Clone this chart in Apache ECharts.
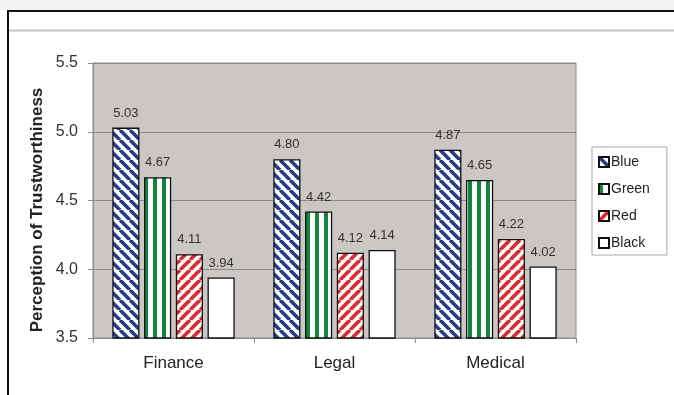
<!DOCTYPE html>
<html><head><meta charset="utf-8">
<script src="https://cdn.jsdelivr.net/npm/echarts@6/dist/echarts.min.js"></script>
<style>html,body{margin:0;padding:0;background:#fff}#c{width:674px;height:395px}</style>
</head><body><div id="c"></div>
<script>
const categories = ['Finance', 'Legal', 'Medical'];
const seriesNames = ['Blue', 'Green', 'Red', 'Black'];
const blueValues = [5.03, 4.80, 4.87];
const greenValues = [4.67, 4.42, 4.65];
const redValues = [4.11, 4.12, 4.22];
const blackValues = [3.94, 4.14, 4.02];
const yTicks = [3.5, 4.0, 4.5, 5.0, 5.5];

function diag(color, dir) {
  const p = 10;
  const c = document.createElement('canvas');
  c.width = p; c.height = p;
  const g = c.getContext('2d');
  g.fillStyle = '#ffffff'; g.fillRect(0, 0, p, p);
  g.strokeStyle = color; g.lineWidth = 3.6;
  for (let k = -2; k <= 2; k++) {
    g.beginPath();
    if (dir === 'back') { g.moveTo(k * p, 0); g.lineTo(k * p + p, p); }
    else { g.moveTo(k * p, p); g.lineTo(k * p + p, 0); }
    g.stroke();
  }
  return { image: c, repeat: 'repeat' };
}
function vert(color) {
  const c = document.createElement('canvas');
  c.width = 9; c.height = 4;
  const g = c.getContext('2d');
  g.fillStyle = '#ffffff'; g.fillRect(0, 0, 9, 4);
  g.fillStyle = color; g.fillRect(0, 0, 4, 4);
  return { image: c, repeat: 'repeat' };
}
const fills = [diag('#263a8e', 'back'), vert('#12863a'), diag('#e8242b', 'fwd'), '#ffffff'];
const valueSets = [blueValues, greenValues, redValues, blackValues];

const chart = echarts.init(document.getElementById('c'), null, { renderer: 'canvas' });
chart.setOption({
  animation: false,
  backgroundColor: '#ffffff',
  textStyle: { fontFamily: 'Liberation Sans, Arial, sans-serif' },
  graphic: [
    { type: 'rect', shape: { x: 0, y: 0, width: 674, height: 10 }, style: { fill: '#f4f4f4' }, silent: true },
    { type: 'line', shape: { x1: 8, y1: 11, x2: 674, y2: 11 }, style: { stroke: '#111', lineWidth: 2 }, silent: true },
    { type: 'line', shape: { x1: 8, y1: 10, x2: 8, y2: 395 }, style: { stroke: '#111', lineWidth: 2 }, silent: true },
    { type: 'line', shape: { x1: 9, y1: 30.5, x2: 674, y2: 30.5 }, style: { stroke: '#c4c2c2', lineWidth: 2 }, silent: true },
    { type: 'text', x: 37, y: 210, rotation: Math.PI / 2,
      style: { text: 'Perception of Trustworthiness', fontSize: 17, fontWeight: 'bold', fill: '#222',
        fontFamily: 'Liberation Sans, Arial, sans-serif', textAlign: 'center', textVerticalAlign: 'middle' } }
  ],
  grid: { left: 93, right: 98, top: 63, bottom: 57, show: true, backgroundColor: '#cac7c4', borderColor: '#8c8c8c', borderWidth: 1 },
  legend: {
    orient: 'vertical', left: 592, top: 147,
    data: seriesNames,
    itemWidth: 10, itemHeight: 10, itemGap: 13,
    padding: [8, 17, 5, 6],
    borderColor: '#a8a8a8', borderWidth: 1, backgroundColor: '#ffffff',
    textStyle: { fontSize: 14, color: '#222', padding: [0, 0, 0, -3] },
    icon: 'rect'
  },
  xAxis: {
    type: 'category', data: categories,
    axisLine: { lineStyle: { color: '#8c8c8c' } },
    axisTick: { show: true, length: 5, lineStyle: { color: '#8c8c8c' } },
    axisLabel: { fontSize: 17, color: '#222', margin: 17 }
  },
  yAxis: {
    type: 'value', min: 3.5, max: 5.5, interval: 0.5,
    axisLine: { show: true, lineStyle: { color: '#8c8c8c' } },
    axisTick: { show: true, length: 5, lineStyle: { color: '#8c8c8c' } },
    axisLabel: { fontSize: 16, color: '#333', margin: 15, formatter: v => yTicks.includes(v) ? v.toFixed(1) : '' },
    splitLine: { lineStyle: { color: '#8a8a8a', width: 1 } }
  },
  series: seriesNames.map((n, i) => ({
    name: n, type: 'bar', data: valueSets[i],
    barGap: '17%', barCategoryGap: '24%',
    itemStyle: { color: fills[i], borderColor: '#111', borderWidth: 1.3 },
    label: { show: true, position: 'top', distance: 8, fontSize: 13, color: '#333', formatter: p => p.value.toFixed(2) }
  }))
});
</script></body></html>
